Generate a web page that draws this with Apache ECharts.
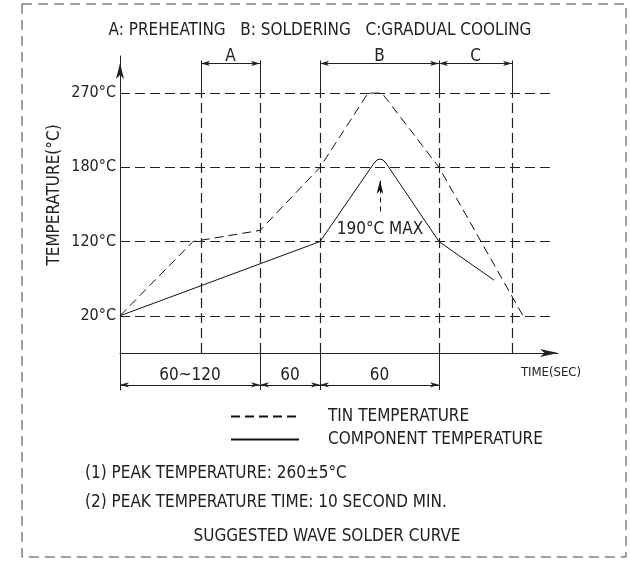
<!DOCTYPE html>
<html>
<head>
<meta charset="utf-8">
<script src="https://cdn.jsdelivr.net/npm/echarts@6/dist/echarts.min.js"></script>
<style>html,body{margin:0;padding:0;background:#fff;}#c{width:630px;height:564px;}</style>
</head>
<body>
<div id="c"></div>
<script>
// ---------- data ----------
const tempTicks = [20, 120, 180, 270];
const tickLabels = ['20°C', '120°C', '180°C', '270°C'];
// drawing time positions (the drawing is not to scale)
const tinTime = [0, 73, 140, 200, 248, 262, 319, 403];
const tinTemp = [20, 120, 129, 180, 270, 270, 180, 20];
const compTime = [0, 200, 254, 257, 260, 263, 266, 319, 374];
const compTemp = [20, 120, 185, 189, 190, 189, 185, 120, 68];
const zoneBounds = [81, 140, 200, 319, 392];
const zoneNames = ['A', 'B', 'C'];
const zoneSpans = [[81, 140], [200, 319], [319, 392]];
const durLabels = ['60~120', '60', '60'];
const durSpans = [[0, 140], [140, 200], [200, 319]];
const peakTime = 260;
const peakNote = '190°C MAX';
const seriesNames = ['TIN TEMPERATURE', 'COMPONENT TEMPERATURE'];
const titleText = 'A: PREHEATING   B: SOLDERING   C:GRADUAL COOLING';
const yName = 'TEMPERATURE(°C)';
const xName = 'TIME(SEC)';
const notes = ['(1) PEAK TEMPERATURE: 260±5°C', '(2) PEAK TEMPERATURE TIME: 10 SECOND MIN.'];
const caption = 'SUGGESTED WAVE SOLDER CURVE';

// temperature levels are drawn equally spaced: map temperature -> level
const levelPos = [0.5, 1.5, 2.5, 3.5];
function lv(t) {
  for (let i = 0; i < tempTicks.length - 1; i++) {
    if (t <= tempTicks[i + 1]) {
      return levelPos[i] + (t - tempTicks[i]) / (tempTicks[i + 1] - tempTicks[i]);
    }
  }
  return levelPos[levelPos.length - 1];
}

const FONT = "'Liberation Sans Narrow', 'DejaVu Sans Condensed', sans-serif";
const INK = '#222';

const chart = echarts.init(document.getElementById('c'), null, {renderer: 'canvas'});

const gridDash = {type: [10, 5], color: '#222', width: 1.2};
const solid = {type: 'solid', color: '#222', width: 1};
const guides = [];
// horizontal temperature guide lines
tempTicks.forEach(t => guides.push([{coord: [0, lv(t)], lineStyle: gridDash}, {coord: [430, lv(t)]}]));
// vertical zone lines
zoneBounds.forEach(x => {
  guides.push([{coord: [x, 0], lineStyle: gridDash}, {coord: [x, 3.5]}]);
  guides.push([{coord: [x, 3.5], lineStyle: solid}, {coord: [x, 3.94]}]);
});
// extension lines below the time axis
[140, 200, 319].forEach(x => guides.push([{coord: [x, 0], lineStyle: solid}, {coord: [x, -0.5]}]));
// zone dimension lines
zoneSpans.forEach((s, i) => guides.push([
  {coord: [s[0], 3.9], lineStyle: solid, symbol: 'arrow', symbolSize: [4, 9],
   label: {show: true, formatter: zoneNames[i], position: 'insideMiddleTop', distance: -2,
           fontFamily: FONT, fontSize: 17, color: INK}},
  {coord: [s[1], 3.9], symbol: 'arrow', symbolSize: [4, 9]}
]));
// duration dimension lines
durSpans.forEach((s, i) => guides.push([
  {coord: [s[0], -0.43], lineStyle: solid, symbol: 'arrow', symbolSize: [4, 9],
   label: {show: true, formatter: durLabels[i], position: 'insideMiddleTop', distance: 1,
           fontFamily: FONT, fontSize: 17, color: INK}},
  {coord: [s[1], -0.43], symbol: 'arrow', symbolSize: [4, 9]}
]));
// peak note arrow
guides.push([
  {coord: [peakTime, 1.905], lineStyle: {type: [5, 4], color: '#111', width: 1}, symbol: 'none',
   label: {show: true, formatter: peakNote, position: 'start', distance: 10,
           fontFamily: FONT, fontSize: 17, color: INK}},
  {coord: [peakTime, 2.32], symbol: 'arrow', symbolSize: [5, 13]}
]);

const option = {
  animation: false,
  backgroundColor: '#fff',
  grid: {left: 120, top: 56, width: 438, height: 334, containLabel: false},
  xAxis: {
    type: 'value', min: 0, max: 438,
    axisLine: {show: true, onZero: true, symbol: ['none', 'arrow'], symbolSize: [6, 18],
               lineStyle: {color: '#222', width: 1}},
    axisTick: {show: false}, axisLabel: {show: false}, splitLine: {show: false}
  },
  yAxis: {
    type: 'value', min: -0.5, max: 4, interval: 0.5,
    axisLine: {show: true, symbol: ['none', 'arrow'], symbolSize: [6, 16], symbolOffset: [0, -7],
               lineStyle: {color: '#222', width: 1}},
    axisTick: {show: false}, splitLine: {show: false},
    axisLabel: {
      margin: 4, fontFamily: FONT, fontSize: 16, color: INK,
      formatter: v => {
        const i = levelPos.findIndex(p => Math.abs(p - v) < 1e-6);
        return i >= 0 ? tickLabels[i] : '';
      }
    }
  },
  legend: {
    orient: 'vertical', left: 225, top: 403, itemWidth: 68, itemHeight: 14, itemGap: 6,
    selectedMode: false, data: seriesNames,
    itemStyle: {opacity: 0},
    textStyle: {fontFamily: FONT, fontSize: 17, color: INK, padding: [0, 0, 0, 24]}
  },
  series: [
    {
      name: seriesNames[0], type: 'line', symbol: 'none', clip: false,
      itemStyle: {color: '#111'},
      lineStyle: {color: '#111', width: 1, type: [9, 5]},
      data: tinTime.map((x, i) => [x, lv(tinTemp[i])])
    },
    {
      name: seriesNames[1], type: 'line', symbol: 'none', clip: false,
      itemStyle: {color: '#111'},
      lineStyle: {color: '#111', width: 1, type: 'solid'},
      data: compTime.map((x, i) => [x, lv(compTemp[i])])
    },
    {
      name: 'guides', type: 'line', data: [], clip: false, silent: true,
      markLine: {silent: true, symbol: ['none', 'none'], label: {show: false},
                 lineStyle: solid, animation: false, data: guides}
    }
  ],
  graphic: [
    {type: 'rect', shape: {x: 22, y: 4, width: 604, height: 553}, silent: true,
     style: {fill: 'none', stroke: '#444', lineWidth: 1, lineDash: [10, 6]}},
    {type: 'text', x: 320, y: 31, style: {text: titleText, font: '17px ' + FONT, fill: INK, align: 'center', verticalAlign: 'middle'}},
    {type: 'text', x: 55, y: 195, rotation: Math.PI / 2,
     style: {text: yName, font: '17px ' + FONT, fill: INK, align: 'center', verticalAlign: 'middle'}},
    {type: 'text', x: 551, y: 373, style: {text: xName, font: '13px ' + FONT, fill: INK, align: 'center', verticalAlign: 'middle'}},
    {type: 'text', x: 85, y: 474, style: {text: notes[0], font: '17px ' + FONT, fill: INK, align: 'left', verticalAlign: 'middle'}},
    {type: 'text', x: 85, y: 503, style: {text: notes[1], font: '17px ' + FONT, fill: INK, align: 'left', verticalAlign: 'middle'}},
    {type: 'text', x: 327, y: 537, style: {text: caption, font: '17px ' + FONT, fill: INK, align: 'center', verticalAlign: 'middle'}}
  ]
};
chart.setOption(option);
</script>
</body>
</html>
